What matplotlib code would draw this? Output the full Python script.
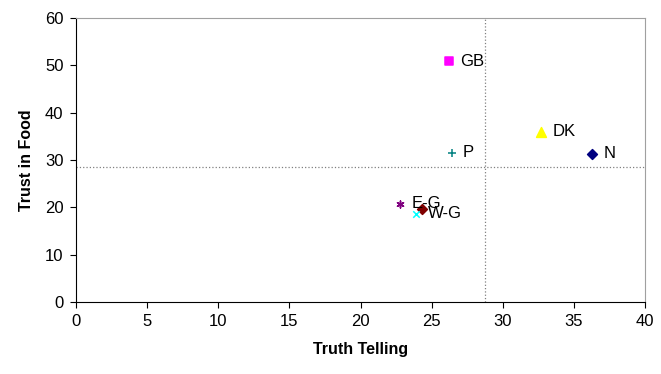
import matplotlib.pyplot as plt

plt.rcParams['font.family'] = ['Liberation Sans', 'DejaVu Sans']

# country scores: truth telling vs trust in food
paises = ['GB', 'DK', 'N', 'P', 'E-G', 'G', 'W-G']
truth = [26.2, 32.7, 36.3, 26.4, 22.8, 24.3, 23.9]
trust = [50.9, 35.9, 31.3, 31.5, 20.7, 19.6, 18.6]
rotulos = ['GB', 'DK', 'N', 'P', 'E-G', '', 'W-G']
marcadores = ['s', '^', 'D', '+', (6, 2, 0), 'D', 'x']
cores = ['#ff00ff', '#ffff00', '#000080', '#008080', '#800080', '#800000', '#00ffff']
tamanhos = [40, 50, 25, 30, 25, 25, 22]

media_truth = 28.75
media_trust = 28.5

fig = plt.figure(figsize=(6.61, 3.74), dpi=100)
ax = fig.add_axes([0.115, 0.193, 0.861, 0.759])

ax.axvline(media_truth, color='#808080', linestyle=':', linewidth=0.9)
ax.axhline(media_trust, color='#808080', linestyle=':', linewidth=0.9)

for x, y, r, m, c, s in zip(truth, trust, rotulos, marcadores, cores, tamanhos):
    ax.scatter(x, y, marker=m, color=c, s=s, zorder=3, linewidths=1.1)
    if r:
        ax.text(x + 0.8, y, r, fontsize=12, va='center', ha='left', zorder=4)

ax.set_xlim(0, 40)
ax.set_ylim(0, 60)
ax.set_xticks(range(0, 41, 5))
ax.set_yticks(range(0, 61, 10))
ax.tick_params(labelsize=12, length=4, direction='out', pad=5)
ax.set_xlabel('Truth Telling', fontsize=11.5, fontweight='bold', labelpad=9)
ax.set_ylabel('Trust in Food', fontsize=11.5, fontweight='bold', labelpad=8)

for lado in ['top', 'right']:
    ax.spines[lado].set_color('#a0a0a0')
for lado in ['left', 'bottom']:
    ax.spines[lado].set_color('black')

fig.savefig('out.png', dpi=100)
